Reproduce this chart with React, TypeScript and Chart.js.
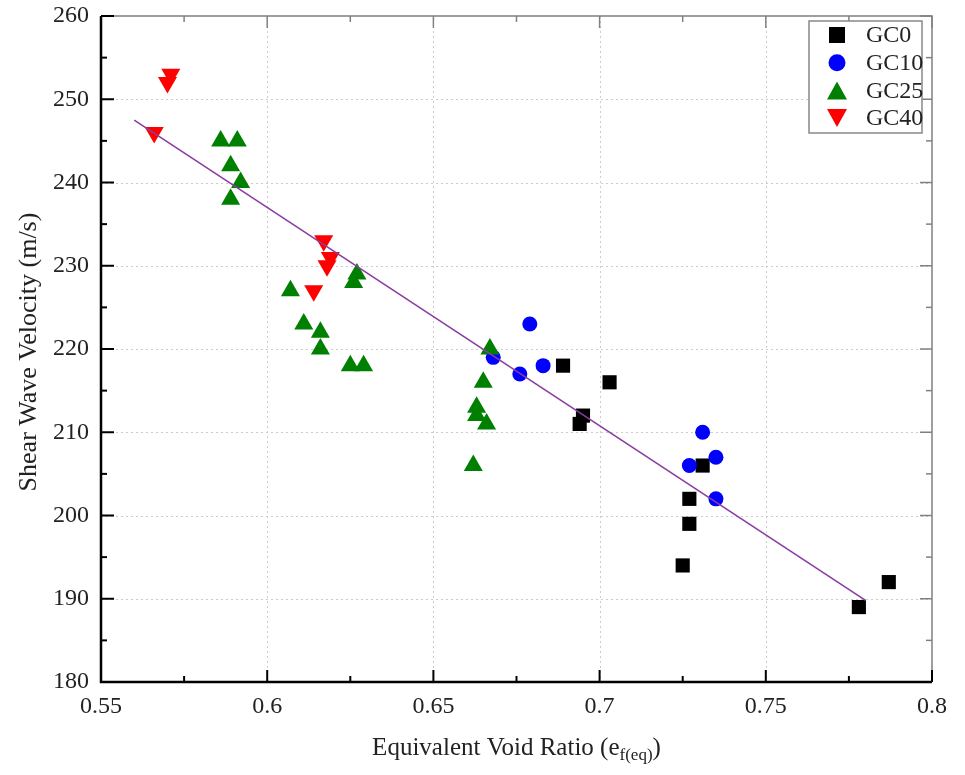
import React, { useEffect, useRef } from "react";
import { Chart, registerables } from "chart.js";

Chart.register(...registerables);

const X_TICKS = [0.55, 0.6, 0.65, 0.7, 0.75, 0.8];
const X_MINOR = [0.575, 0.625, 0.675, 0.725, 0.775];
const Y_TICKS = [180, 190, 200, 210, 220, 230, 240, 250, 260];
const Y_MINOR = [185, 195, 205, 215, 225, 235, 245, 255];

const GC0_X = [0.689, 0.703, 0.695, 0.694, 0.731, 0.727, 0.727, 0.725, 0.778, 0.787];
const GC0_Y = [218, 216, 212, 211, 206, 202, 199, 194, 189, 192];
const GC10_X = [0.679, 0.668, 0.676, 0.683, 0.731, 0.735, 0.727, 0.735];
const GC10_Y = [223, 219, 217, 218, 210, 207, 206, 202];
const GC25_X = [0.586, 0.591, 0.589, 0.592, 0.589, 0.607, 0.611, 0.616, 0.616, 0.625, 0.629, 0.627, 0.626, 0.667, 0.665, 0.663, 0.663, 0.666, 0.662];
const GC25_Y = [245, 245, 242, 240, 238, 227, 223, 222, 220, 218, 218, 229, 228, 220, 216, 213, 212, 211, 206];
const GC40_X = [0.571, 0.570, 0.566, 0.617, 0.619, 0.618, 0.614];
const GC40_Y = [253, 252, 246, 233, 231, 230, 227];
const FIT_X = [0.56, 0.78];
const FIT_Y = [247.5, 189.8];

const SERIES = [
  { name: "GC0", xs: GC0_X, ys: GC0_Y, color: "#000000", style: "rect", radius: 10, rotation: 0 },
  { name: "GC10", xs: GC10_X, ys: GC10_Y, color: "#0000ff", style: "circle", radius: 7.5, rotation: 0 },
  { name: "GC25", xs: GC25_X, ys: GC25_Y, color: "#008000", style: "triangle", radius: 11, rotation: 0 },
  { name: "GC40", xs: GC40_X, ys: GC40_Y, color: "#ff0000", style: "triangle", radius: 11, rotation: 180 },
];

const FONT = "'Liberation Serif', 'Times New Roman', serif";

function zip(xs: number[], ys: number[]) {
  return xs.map((x, i) => ({ x, y: ys[i] }));
}

function drawMarker(ctx: CanvasRenderingContext2D, style: string, x: number, y: number, size: number, rot: number, color: string) {
  ctx.save();
  ctx.fillStyle = color;
  ctx.beginPath();
  if (style === "rect") {
    ctx.rect(x - size / 2, y - size / 2, size, size);
  } else if (style === "circle") {
    ctx.arc(x, y, size / 2, 0, Math.PI * 2);
  } else {
    const h = size * 0.9;
    const dir = rot === 180 ? -1 : 1;
    ctx.moveTo(x, y - dir * h / 2);
    ctx.lineTo(x + size / 2, y + dir * h / 2);
    ctx.lineTo(x - size / 2, y + dir * h / 2);
    ctx.closePath();
  }
  ctx.fill();
  ctx.restore();
}

const framePlugin = {
  id: "framePlugin",
  beforeDatasetsDraw(chart: any) {
    const { ctx, chartArea: a, scales } = chart;
    const xs = scales.x, ys = scales.y;
    ctx.save();
    ctx.strokeStyle = "#cccccc";
    ctx.lineWidth = 1;
    ctx.setLineDash([2, 3]);
    X_TICKS.slice(1, -1).forEach((v) => {
      const px = Math.round(xs.getPixelForValue(v)) + 0.5;
      ctx.beginPath();
      ctx.moveTo(px, a.top);
      ctx.lineTo(px, a.bottom);
      ctx.stroke();
    });
    Y_TICKS.slice(1, -1).forEach((v) => {
      const py = Math.round(ys.getPixelForValue(v)) + 0.5;
      ctx.beginPath();
      ctx.moveTo(a.left, py);
      ctx.lineTo(a.right, py);
      ctx.stroke();
    });
    ctx.restore();
  },
  afterDraw(chart: any) {
    const { ctx, chartArea: a, scales } = chart;
    const xs = scales.x, ys = scales.y;
    ctx.save();
    ctx.strokeStyle = "#808080";
    ctx.lineWidth = 1.5;
    ctx.beginPath();
    ctx.moveTo(a.left, a.top);
    ctx.lineTo(a.right, a.top);
    ctx.lineTo(a.right, a.bottom);
    ctx.stroke();
    const tick = (x1: number, y1: number, x2: number, y2: number) => {
      ctx.beginPath();
      ctx.moveTo(x1, y1);
      ctx.lineTo(x2, y2);
      ctx.stroke();
    };
    X_TICKS.forEach((v) => { const p = xs.getPixelForValue(v); tick(p, a.top, p, a.top + 12); });
    X_MINOR.forEach((v) => { const p = xs.getPixelForValue(v); tick(p, a.top, p, a.top + 6); });
    Y_TICKS.forEach((v) => { const p = ys.getPixelForValue(v); tick(a.right, p, a.right - 12, p); });
    Y_MINOR.forEach((v) => { const p = ys.getPixelForValue(v); tick(a.right, p, a.right - 6, p); });
    ctx.strokeStyle = "#000000";
    ctx.lineWidth = 2.5;
    ctx.beginPath();
    ctx.moveTo(a.left, a.top);
    ctx.lineTo(a.left, a.bottom);
    ctx.lineTo(a.right, a.bottom);
    ctx.stroke();
    ctx.lineWidth = 2;
    X_TICKS.forEach((v) => { const p = xs.getPixelForValue(v); tick(p, a.bottom, p, a.bottom - 12); });
    X_MINOR.forEach((v) => { const p = xs.getPixelForValue(v); tick(p, a.bottom, p, a.bottom - 6); });
    Y_TICKS.forEach((v) => { const p = ys.getPixelForValue(v); tick(a.left, p, a.left + 13, p); });
    Y_MINOR.forEach((v) => { const p = ys.getPixelForValue(v); tick(a.left, p, a.left + 6, p); });

    ctx.fillStyle = "#222222";
    ctx.font = `26px ${FONT}`;
    ctx.textBaseline = "middle";
    ctx.save();
    ctx.translate(29, (a.top + a.bottom) / 2 + 3);
    ctx.rotate(-Math.PI / 2);
    ctx.textAlign = "center";
    ctx.fillText("Shear Wave Velocity (m/s)", 0, 0);
    ctx.restore();

    const mainTxt = "Equivalent Void Ratio (e";
    const subTxt = "f(eq)";
    const endTxt = ")";
    ctx.font = `25px ${FONT}`;
    const w1 = ctx.measureText(mainTxt).width;
    const w3 = ctx.measureText(endTxt).width;
    ctx.font = `17px ${FONT}`;
    const w2 = ctx.measureText(subTxt).width;
    const total = w1 + w2 + w3;
    const x0 = (a.left + a.right) / 2 - total / 2;
    const ty = 748;
    ctx.textAlign = "left";
    ctx.font = `25px ${FONT}`;
    ctx.fillText(mainTxt, x0, ty);
    ctx.font = `17px ${FONT}`;
    ctx.fillText(subTxt, x0 + w1, ty + 8);
    ctx.font = `25px ${FONT}`;
    ctx.fillText(endTxt, x0 + w1 + w2, ty);

    const lx = 809, ly = 21, lw = 113, lh = 112;
    ctx.fillStyle = "#ffffff";
    ctx.fillRect(lx, ly, lw, lh);
    ctx.strokeStyle = "#888888";
    ctx.lineWidth = 1.5;
    ctx.strokeRect(lx, ly, lw, lh);
    ctx.font = `24px ${FONT}`;
    ctx.textAlign = "left";
    ctx.textBaseline = "middle";
    SERIES.forEach((s, i) => {
      const cy = 35 + i * 27.7;
      const size = s.style === "rect" ? 16 : s.style === "circle" ? 17 : 20;
      drawMarker(ctx, s.style, 837, cy, size, s.rotation, s.color);
      ctx.fillStyle = "#222222";
      ctx.fillText(s.name, 866, cy + 1);
    });
    ctx.restore();
  },
};

export default function App() {
  const ref = useRef<HTMLCanvasElement | null>(null);
  useEffect(() => {
    document.body.style.margin = "0";
    if (!ref.current) return;
    const datasets: any[] = [
      {
        label: "Fit",
        type: "scatter",
        data: zip(FIT_X, FIT_Y),
        showLine: true,
        borderColor: "#8a3d9e",
        borderWidth: 1.6,
        pointRadius: 0,
        order: 0,
      },
      ...SERIES.map((s, i) => ({
        label: s.name,
        type: "scatter",
        data: zip(s.xs, s.ys),
        pointStyle: s.style,
        pointRadius: s.radius,
        pointRotation: s.rotation,
        backgroundColor: s.color,
        borderColor: s.color,
        borderWidth: 0,
        pointHoverRadius: s.radius,
        order: 4 - i + 1,
      })),
    ];
    const chart = new Chart(ref.current, {
      type: "scatter",
      data: { datasets },
      plugins: [framePlugin],
      options: {
        animation: false,
        responsive: false,
        maintainAspectRatio: false,
        layout: { padding: { top: 16, right: 33, bottom: 0, left: 0 } },
        plugins: { legend: { display: false }, tooltip: { enabled: false } },
        scales: {
          x: {
            type: "linear",
            min: 0.55,
            max: 0.8,
            afterFit: (s: any) => {
              s.height = 93;
              s.paddingLeft = 0;
              s.paddingRight = 0;
            },
            afterBuildTicks: (s: any) => { s.ticks = X_TICKS.map((v) => ({ value: v })); },
            ticks: {
              padding: 10,
              color: "#222222",
              font: { family: FONT, size: 24 },
              callback: (v: any) => String(parseFloat(Number(v).toFixed(3))),
              maxRotation: 0,
              autoSkip: false,
            },
            grid: { display: false, drawTicks: false },
            border: { display: false },
          },
          y: {
            type: "linear",
            min: 180,
            max: 260,
            afterFit: (s: any) => {
              s.width = 101;
              s.paddingTop = 0;
              s.paddingBottom = 0;
            },
            afterBuildTicks: (s: any) => { s.ticks = Y_TICKS.map((v) => ({ value: v })); },
            ticks: {
              padding: 12,
              color: "#222222",
              font: { family: FONT, size: 24 },
              callback: (v: any) => String(v),
              autoSkip: false,
            },
            grid: { display: false, drawTicks: false },
            border: { display: false },
          },
        },
      } as any,
    });
    return () => chart.destroy();
  }, []);
  return (
    <div style={{ width: 965, height: 775, background: "#ffffff" }}>
      <canvas ref={ref} width={965} height={775} style={{ display: "block" }} />
    </div>
  );
}
